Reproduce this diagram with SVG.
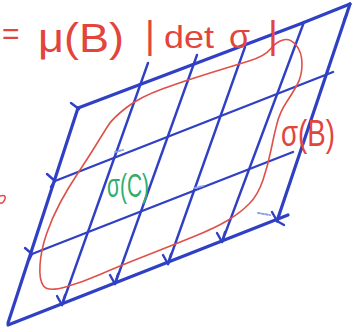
<svg xmlns="http://www.w3.org/2000/svg" width="354" height="332" viewBox="0 0 354 332">
<style>
.b{fill:none;stroke:#3040c4;stroke-linecap:round;stroke-linejoin:round}
.edge{stroke-width:3.2}
.in{stroke-width:2.4}
.lb{fill:none;stroke:#8aa2e6;stroke-width:2;stroke-linecap:round;stroke-dasharray:2 2}
.red{fill:none;stroke:#e0504a;stroke-width:1.6;stroke-linecap:round;stroke-linejoin:round}
.rt{font-family:"Liberation Sans",Arial,sans-serif;fill:#e2453c}
.gt{font-family:"Liberation Sans",Arial,sans-serif;fill:#2fae6e}
</style>
<rect width="354" height="332" fill="#ffffff"/>
<g id="grid">
<path class="b edge" d="M8,323 L78,108"/>
<path class="b edge" d="M78,108 L300,24 Q330,12 350,4"/>
<path class="b edge" d="M350,4 L277,221"/>
<path class="b edge" d="M8,325 L288,215"/>
<path class="b in" d="M148,63 L62,305"/>
<path class="b in" d="M197,55 L115,284"/>
<path class="b in" d="M245,47 L168,264"/>
<path class="b in" d="M304,22 L222,242"/>
<path class="b in" d="M55,181 L333,72"/>
<path class="b in" d="M32,254 L293,152"/>
<g id="ticks">
<path class="b in" d="M47,174 L55,181 L51,187"/>
<path class="b in" d="M25,248 L32,254 L29,260"/>
<path class="b in" d="M71,103 L79,109"/>
<path class="b in" d="M57,296 L62,305 L65,295"/>
<path class="b in" d="M110,275 L115,284 L118,274"/>
<path class="b in" d="M163,255 L168,264 L171,254"/>
<path class="b in" d="M217,233 L222,242 L225,232"/>
<path class="b in" d="M272,212 L277,221 L284,225"/>
<path class="b in" d="M344,20 L347,14"/>
</g>
<path class="lb" d="M258,213 L270,215"/>
<path class="lb" d="M115,152 L123,150"/>
<path class="lb" d="M195,188 L203,186"/>
</g>
<g id="regionB">
<path class="red" d="M126.5,107.5 Q140,97 163.5,88.5 Q187,80 210,73 Q233,66 249,61 Q265,56 270.5,49 Q276,42 283,40 Q290,38 296,45 Q302,52 302,64 Q302,76 297,85 Q292,94 286,103 Q280,112 277,123.5 Q274,135 271,150 Q268,165 263,180 Q258,195 249,204 Q240,213 227.5,220.5 Q215,228 194,236.5 Q173,245 145,256 Q117,267 100,274.5 Q83,282 65.5,287 Q48,292 43.5,286 Q39,280 40,265 Q41,250 46.5,234 Q52,218 60,203 Q68,188 78,173 Q88,158 96,145 Q104,132 108.5,125 Q113,118 126.5,107.5 Z"/>
<path class="red" stroke-width="2" d="M0,196 Q6,194 5,199 Q3,204 0,203"/>
</g>
<g id="labels">
<text class="rt" x="2" y="44" font-size="30">=</text>
<text class="rt" x="38" y="52" font-size="40" textLength="86" lengthAdjust="spacingAndGlyphs">μ(B)</text>
<text class="rt" x="145" y="48" font-size="38">|</text>
<text class="rt" x="164" y="48" font-size="32" textLength="50" lengthAdjust="spacingAndGlyphs">det</text>
<text class="rt" x="229" y="48" font-size="34">σ</text>
<text class="rt" x="268" y="48" font-size="38">|</text>
<text class="rt" x="281" y="146" font-size="36" textLength="54" lengthAdjust="spacingAndGlyphs">σ(B)</text>
<text class="gt" x="107" y="197" font-size="34" textLength="42" lengthAdjust="spacingAndGlyphs">σ(C)</text>
</g>
</svg>
